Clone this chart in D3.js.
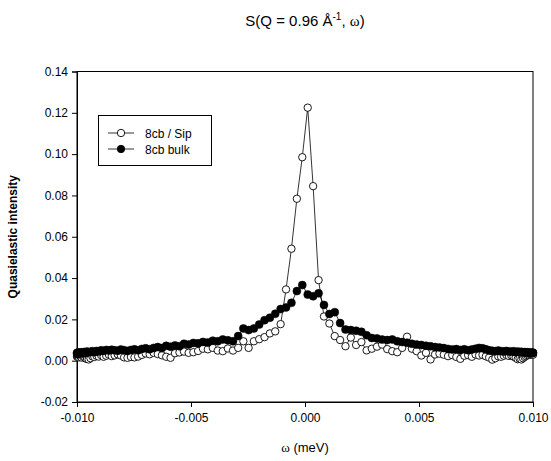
<!DOCTYPE html>
<html>
<head>
<meta charset="utf-8">
<script src="https://cdn.jsdelivr.net/npm/d3@7"></script>
<style>
  html, body { margin: 0; padding: 0; background: #fff; }
  svg { display: block; }
  text { font-family: "Liberation Sans", Arial, sans-serif; }
</style>
</head>
<body>
<div id="chart"></div>
<script>
// Energy transfer grid (meV)
const omegaNeg = [-0.009999,-0.009994,-0.009982,-0.009965,-0.009943,-0.009914,-0.009881,-0.009841,-0.009796,-0.009746,
  -0.009690,-0.009628,-0.009561,-0.009489,-0.009410,-0.009327,-0.009239,-0.009145,-0.009046,-0.008943,
  -0.008833,-0.008719,-0.008600,-0.008476,-0.008348,-0.008214,-0.008076,-0.007934,-0.007786,-0.007635,
  -0.007480,-0.007319,-0.007155,-0.006987,-0.006814,-0.006638,-0.006458,-0.006275,-0.006088,-0.005897,
  -0.005703,-0.005506,-0.005306,-0.005103,-0.004897,-0.004688,-0.004476,-0.004262,-0.004045,-0.003827,
  -0.003606,-0.003383,-0.003158,-0.002931,-0.002703,-0.002473,-0.002242,-0.002009,-0.001775,-0.001541,
  -0.001305,-0.001069,-0.000832,-0.000595,-0.000357,-0.000119];
const omegaPos = [0.000119,0.000357,0.000595,0.000832,0.001069,0.001305,0.001541,0.001775,0.002009,0.002242,
  0.002473,0.002703,0.002931,0.003158,0.003383,0.003606,0.003827,0.004045,0.004262,0.004476,
  0.004688,0.004897,0.005103,0.005306,0.005506,0.005703,0.005897,0.006088,0.006274,0.006458,
  0.006638,0.006814,0.006987,0.007155,0.007319,0.007480,0.007635,0.007786,0.007934,0.008076,
  0.008214,0.008348,0.008476,0.008600,0.008719,0.008833,0.008943,0.009046,0.009145,0.009239,
  0.009327,0.009410,0.009489,0.009561,0.009628,0.009690,0.009746,0.009796,0.009841,0.009881,
  0.009914,0.009943,0.009965,0.009982,0.009994,0.009999];

// 8cb / Sip (open circles)
const sipNeg = [0.0022,0.0019,0.0025,0.0018,0.0023,0.0016,0.0024,0.0020,0.0015,0.0022,
  0.0017,0.0011,0.0008,0.0006,0.0012,0.0021,0.0018,0.0024,0.0020,0.0027,
  0.0019,0.0024,0.0029,0.0022,0.0026,0.0031,0.0025,0.0016,0.0014,0.0018,
  0.0016,0.0020,0.0028,0.0035,0.0031,0.0038,0.0032,0.0026,0.0019,0.0014,
  0.0036,0.0040,0.0044,0.0038,0.0041,0.0047,0.0058,0.0055,0.0062,0.0049,
  0.0046,0.0059,0.0049,0.0062,0.0094,0.0062,0.0094,0.0104,0.0114,0.0132,
  0.0142,0.0177,0.0345,0.0542,0.0784,0.0985];
const sipPos = [0.1225,0.0845,0.0390,0.0214,0.0180,0.0119,0.0100,0.0070,0.0112,0.0076,
  0.0090,0.0050,0.0058,0.0068,0.0078,0.0056,0.0046,0.0041,0.0062,0.0116,
  0.0058,0.0046,0.0025,0.0038,0.0006,0.0030,0.0034,0.0029,0.0022,0.0027,
  0.0018,0.0009,0.0024,0.0027,0.0019,0.0030,0.0025,0.0028,0.0021,0.0015,
  0.0005,0.0012,0.0021,0.0019,0.0024,0.0028,0.0023,0.0026,0.0020,0.0014,
  0.0007,0.0010,0.0006,0.0012,0.0018,0.0022,0.0027,0.0031,0.0028,0.0033,
  0.0030,0.0029,0.0032,0.0030,0.0031,0.0029];

// 8cb bulk (filled circles)
const bulkNeg = [0.0035,0.0038,0.0033,0.0036,0.0040,0.0034,0.0039,0.0037,0.0041,0.0035,
  0.0042,0.0038,0.0044,0.0040,0.0043,0.0046,0.0041,0.0047,0.0044,0.0050,
  0.0047,0.0052,0.0049,0.0053,0.0050,0.0048,0.0054,0.0051,0.0047,0.0052,
  0.0055,0.0050,0.0057,0.0060,0.0055,0.0062,0.0066,0.0061,0.0072,0.0068,
  0.0074,0.0070,0.0082,0.0078,0.0086,0.0084,0.0091,0.0088,0.0097,0.0094,
  0.0103,0.0099,0.0094,0.0119,0.0156,0.0148,0.0156,0.0175,0.0196,0.0208,
  0.0227,0.0250,0.0258,0.0280,0.0337,0.0366];
const bulkPos = [0.0320,0.0312,0.0326,0.0270,0.0226,0.0235,0.0182,0.0151,0.0148,0.0145,
  0.0140,0.0123,0.0110,0.0108,0.0102,0.0100,0.0103,0.0094,0.0090,0.0087,
  0.0082,0.0078,0.0076,0.0072,0.0070,0.0066,0.0064,0.0061,0.0057,0.0054,
  0.0056,0.0052,0.0055,0.0051,0.0054,0.0058,0.0062,0.0060,0.0055,0.0050,
  0.0048,0.0046,0.0049,0.0046,0.0044,0.0047,0.0045,0.0043,0.0046,0.0042,
  0.0044,0.0041,0.0043,0.0040,0.0042,0.0039,0.0041,0.0038,0.0040,0.0037,
  0.0039,0.0036,0.0038,0.0037,0.0039,0.0038];

const xTicks = [-0.010, -0.005, 0.000, 0.005, 0.010];
const yTicks = [-0.02, 0.00, 0.02, 0.04, 0.06, 0.08, 0.10, 0.12, 0.14];
const seriesNames = ["8cb / Sip", "8cb bulk"];

const omega = omegaNeg.concat(omegaPos);
const sip = sipNeg.concat(sipPos);
const bulk = bulkNeg.concat(bulkPos);

const W = 551, H = 461;
const margin = { left: 77, top: 71.5, right: 18, bottom: 59 };

const svg = d3.select("#chart").append("svg")
  .attr("width", W).attr("height", H);

const x = d3.scaleLinear().domain([-0.010, 0.010]).range([margin.left, W - margin.right]);
const y = d3.scaleLinear().domain([-0.02, 0.14]).range([H - margin.bottom, margin.top]);

// frame
svg.append("rect")
  .attr("x", x(-0.010)).attr("y", y(0.14))
  .attr("width", x(0.010) - x(-0.010)).attr("height", y(-0.02) - y(0.14))
  .attr("fill", "none").attr("stroke", "#000").attr("stroke-width", 1);

// hyphen-minus formatting like the original
const fmt = p => d => (Math.abs(d) < 1e-12 ? 0 : d).toFixed(p);

// axes
const xAxis = d3.axisBottom(x).tickValues(xTicks).tickFormat(fmt(3)).tickSizeOuter(0).tickSize(5).tickPadding(6);
const yAxis = d3.axisLeft(y).tickValues(yTicks).tickFormat(fmt(2)).tickSizeOuter(0).tickSize(5).tickPadding(4);

const gx = svg.append("g").attr("transform", `translate(0,${y(-0.02)})`).call(xAxis);
const gy = svg.append("g").attr("transform", `translate(${x(-0.010)},0)`).call(yAxis);
[gx, gy].forEach(g => {
  g.select(".domain").attr("stroke", "#000");
  g.selectAll(".tick line").attr("stroke", "#000");
  g.selectAll(".tick text").attr("fill", "#000").style("font-size", "12px")
    .style("font-family", '"Liberation Sans", Arial, sans-serif');
});

const line = d3.line().x(d => x(d[0])).y(d => y(d[1]));

const sipData = omega.map((w, i) => [w, sip[i]]);
const bulkData = omega.map((w, i) => [w, bulk[i]]);

// series 1: open circles
svg.append("path").datum(sipData).attr("d", line)
  .attr("fill", "none").attr("stroke", "#000").attr("stroke-width", 0.8);
svg.append("g").selectAll("circle").data(sipData).join("circle")
  .attr("cx", d => x(d[0])).attr("cy", d => y(d[1])).attr("r", 3.7)
  .attr("fill", "#fff").attr("stroke", "#000").attr("stroke-width", 0.9);

// series 2: filled circles
svg.append("path").datum(bulkData).attr("d", line)
  .attr("fill", "none").attr("stroke", "#000").attr("stroke-width", 0.8);
svg.append("g").selectAll("circle").data(bulkData).join("circle")
  .attr("cx", d => x(d[0])).attr("cy", d => y(d[1])).attr("r", 4)
  .attr("fill", "#000").attr("stroke", "#000").attr("stroke-width", 0.5);

// legend
const lg = svg.append("g");
lg.append("rect").attr("x", 98.5).attr("y", 115.5).attr("width", 113).attr("height", 50)
  .attr("fill", "#fff").attr("stroke", "#000").attr("stroke-width", 1);
seriesNames.forEach((name, i) => {
  const ly = 133 + i * 16;
  lg.append("line").attr("x1", 108).attr("x2", 134).attr("y1", ly).attr("y2", ly)
    .attr("stroke", "#000").attr("stroke-width", 0.8);
  lg.append("circle").attr("cx", 121).attr("cy", ly).attr("r", 3.7)
    .attr("fill", i === 0 ? "#fff" : "#000").attr("stroke", "#000").attr("stroke-width", 0.9);
  lg.append("text").attr("x", 145).attr("y", ly + 4.5).text(name)
    .style("font-size", "12px").attr("fill", "#000");
});

// title
const title = svg.append("text").attr("x", 305).attr("y", 26).attr("text-anchor", "middle")
  .style("font-size", "15px").attr("fill", "#000");
title.append("tspan").text("S(Q = 0.96 Å");
title.append("tspan").attr("dy", -6).style("font-size", "10px").text("-1");
title.append("tspan").attr("dy", 6).text(", ");
title.append("tspan").style("font-family", '"Liberation Serif", "Times New Roman", serif').text("ω");
title.append("tspan").text(")");

// x label
const xl = svg.append("text").attr("x", 305).attr("y", 452).attr("text-anchor", "middle")
  .style("font-size", "13px").attr("fill", "#000");
xl.append("tspan").style("font-family", '"Liberation Serif", "Times New Roman", serif').text("ω");
xl.append("tspan").text(" (meV)");

// y label
svg.append("text")
  .attr("transform", `translate(17,${(y(0.14) + y(-0.02)) / 2}) rotate(-90)`)
  .attr("text-anchor", "middle")
  .style("font-size", "12px").style("font-weight", "bold").attr("fill", "#000")
  .text("Quasielastic intensity");
</script>
</body>
</html>
